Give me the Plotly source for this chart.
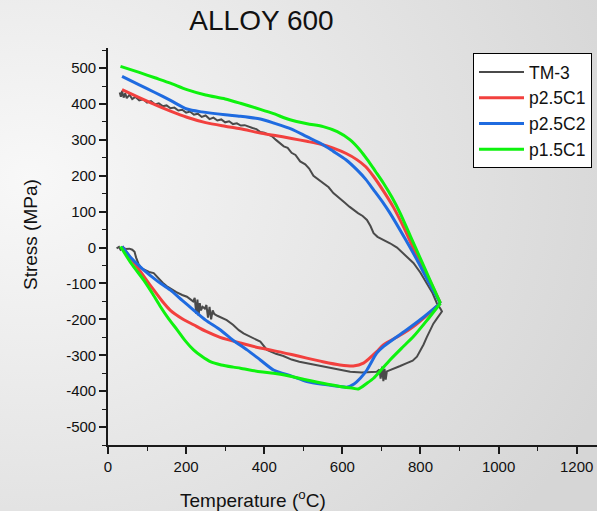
import base64
import plotly.graph_objects as go

# ---------------- data ----------------
# TM-3 measured loop: heating (compressive) branch, then cooling branch back
tm3_temp = [22, 28, 32, 38, 45, 55, 62, 68, 72, 78, 85, 95, 105, 117, 128, 140, 150, 160, 175, 190,
            202, 212, 218, 222, 226, 229, 232, 235, 238, 242, 248, 252, 256, 260, 264, 268, 272, 280,
            292, 304, 320, 335, 347, 360, 375, 390, 407, 430, 449, 470, 490, 509, 540, 569, 594, 620,
            650, 688, 695, 698, 702, 705, 708, 711, 714, 720, 735, 748, 765, 780, 791, 800, 808, 816,
            825, 833, 842, 850, 855,
            852, 842, 830, 816, 800, 782, 765, 748, 740, 722, 705, 690, 680, 672, 663, 652, 640, 628,
            618, 605, 590, 577, 565, 555, 540, 526, 515, 505, 492, 480, 470, 460, 450, 440, 430, 420,
            410, 400, 390, 380, 370, 360, 350, 340, 330, 320, 310, 300, 290, 280, 270, 260, 250, 240,
            230, 220, 210, 200, 190, 180, 170, 160, 150, 140, 130, 120, 110, 100, 90, 80, 70, 62, 55,
            48, 44, 40, 36, 33, 30]
tm3_stress = [-2, 2, -6, 0, -4, -3, -6, -12, -28, -45, -57, -62, -68, -71, -85, -98, -107, -114, -124, -132,
              -137, -145, -150, -140, -185, -145, -190, -155, -175, -165, -170, -160, -195, -165, -200, -175,
              -185, -190, -196, -202, -215, -230, -239, -246, -252, -262, -285, -296, -302, -312, -318, -322,
              -330, -336, -342, -346, -348, -346, -340, -365, -332, -372, -338, -368, -345, -342, -336, -330,
              -322, -315, -304, -288, -270, -250, -230, -212, -198, -186, -178,
              -172, -155, -125, -99, -70, -43, -25, -6, 0, 12, 22, 30, 40, 60, 77, 88, 96, 105,
              114, 126, 140, 152, 168, 176, 190, 200, 220, 232, 240, 258, 264, 278, 282, 290, 300, 310,
              316, 320, 322, 330, 333, 338, 341, 340, 346, 344, 352, 349, 357, 354, 362, 358, 368, 364,
              373, 370, 379, 376, 384, 382, 390, 388, 396, 394, 402, 399, 408, 404, 413, 410, 420, 414,
              426, 416, 430, 418, 436, 420, 432]

# p2.5C1
c1_lo_temp = [36, 55, 74, 95, 117, 138, 159, 190, 219, 250, 287, 339, 390, 424, 470, 509, 550, 594,
              628, 654, 688, 705, 750, 782, 815, 851]
c1_lo_stress = [3, -25, -53, -85, -118, -148, -174, -198, -215, -233, -250, -266, -280, -287, -298, -308,
                -318, -327, -330, -322, -290, -271, -243, -220, -190, -155]
c1_up_temp = [851, 825, 795, 760, 731, 705, 680, 660, 637, 610, 577, 545, 509, 470, 424, 390, 339,
              300, 250, 202, 160, 120, 80, 36]
c1_up_stress = [-155, -95, -34, 50, 112, 158, 198, 225, 245, 262, 277, 288, 296, 304, 313, 319, 331,
                338, 348, 363, 380, 398, 418, 440]

# p2.5C2
c2_lo_temp = [36, 60, 91, 125, 159, 190, 219, 250, 287, 320, 356, 390, 424, 470, 509, 550, 594, 611,
              630, 646, 663, 688, 705, 735, 765, 810, 851]
c2_lo_stress = [3, -30, -62, -92, -118, -147, -174, -202, -229, -258, -285, -313, -341, -358, -373,
                -381, -387, -389, -380, -364, -341, -294, -276, -252, -229, -192, -155]
c2_up_temp = [851, 820, 791, 760, 722, 705, 680, 660, 637, 610, 577, 545, 509, 470, 424, 390, 339,
              300, 240, 202, 160, 120, 80, 36]
c2_up_stress = [-155, -94, -34, 26, 96, 124, 161, 190, 217, 244, 268, 290, 309, 330, 347, 358, 366,
                370, 378, 386, 410, 432, 453, 477]

# p1.5C1
c3_lo_temp = [32, 60, 91, 115, 134, 155, 177, 198, 219, 240, 262, 290, 321, 339, 390, 424, 470, 509,
              550, 594, 628, 641, 663, 680, 700, 722, 752, 782, 815, 851]
c3_lo_stress = [3, -45, -90, -130, -164, -198, -229, -260, -285, -303, -318, -327, -333, -336, -346,
                -350, -359, -369, -378, -387, -392, -394, -378, -364, -340, -313, -280, -248, -205, -155]
c3_up_temp = [851, 825, 800, 775, 748, 727, 705, 685, 664, 645, 620, 587, 551, 510, 466, 424, 390,
              339, 300, 250, 202, 160, 120, 80, 32]
c3_up_stress = [-155, -92, -31, 30, 96, 140, 180, 212, 245, 272, 300, 323, 337, 345, 356, 373, 385,
                402, 414, 425, 440, 458, 473, 488, 505]

x_ticks = [0, 200, 400, 600, 800, 1000, 1200]
y_ticks = [500, 400, 300, 200, 100, 0, -100, -200, -300, -400, -500]
y_tick_text = [str(v) for v in y_ticks]

FONT = "Liberation Sans, Arial, sans-serif"

fig = go.Figure()

fig.add_trace(go.Scatter(x=tm3_temp, y=tm3_stress, mode="lines", name="TM-3",
                         line=dict(color="#4a4a4a", width=2)))

series = [
    ("p2.5C1", "#f2403e", c1_lo_temp, c1_lo_stress, c1_up_temp, c1_up_stress),
    ("p2.5C2", "#1f6be0", c2_lo_temp, c2_lo_stress, c2_up_temp, c2_up_stress),
    ("p1.5C1", "#0ef20e", c3_lo_temp, c3_lo_stress, c3_up_temp, c3_up_stress),
]
for name, color, lx, ly, ux, uy in series:
    fig.add_trace(go.Scatter(x=lx, y=ly, mode="lines", name=name, legendgroup=name,
                             line=dict(color=color, width=3, shape="spline", smoothing=0.7)))
    fig.add_trace(go.Scatter(x=ux, y=uy, mode="lines", name=name, legendgroup=name,
                             showlegend=False,
                             line=dict(color=color, width=3, shape="spline", smoothing=0.7)))

# soft grey gradient backdrop behind the whole figure
W, H = 597, 511
svg = (f"<svg xmlns='http://www.w3.org/2000/svg' width='{W}' height='{H}'>"
       "<defs><radialGradient id='g' cx='0.05' cy='0.35' r='1.05'>"
       "<stop offset='0' stop-color='#f8f8f8'/><stop offset='1' stop-color='#d6d6d6'/>"
       "</radialGradient></defs>"
       f"<rect width='{W}' height='{H}' fill='url(#g)'/></svg>")
bg_uri = "data:image/svg+xml;base64," + base64.b64encode(svg.encode()).decode()

ml, mr, mt, mb = 108, 0, 48, 66
pw, ph = W - ml - mr, H - mt - mb

fig.update_layout(
    width=W, height=H,
    margin=dict(l=ml, r=mr, t=mt, b=mb, pad=0),
    paper_bgcolor="#e6e6e6",
    plot_bgcolor="rgba(0,0,0,0)",
    font=dict(family=FONT, color="#111111"),
    images=[dict(source=bg_uri, xref="paper", yref="paper",
                 x=-ml / pw, y=1 + mt / ph, sizex=W / pw, sizey=H / ph,
                 xanchor="left", yanchor="top", sizing="stretch", layer="below")],
    title=dict(text="ALLOY 600", font=dict(size=28, family=FONT, color="#111111"),
               x=261.5 / W, xref="container", xanchor="center",
               y=1 - 20 / H, yref="container", yanchor="middle"),
    showlegend=True,
    legend=dict(x=(473 - ml) / pw, y=(445 - 53) / ph, xanchor="left", yanchor="top",
                bgcolor="white", bordercolor="black", borderwidth=1,
                font=dict(size=17.5, family=FONT, color="#111111"),
                tracegroupgap=0, itemwidth=45),
    xaxis=dict(range=[0, 1252], tickvals=x_ticks, showgrid=False, zeroline=False,
               showline=True, linecolor="#1a1a1a", linewidth=1.6,
               ticks="outside", ticklen=7, tickwidth=1.5, tickcolor="#1a1a1a",
               tickfont=dict(size=15, family=FONT, color="#111111"),
               minor=dict(ticks="outside", ticklen=4, tickwidth=1.2, tickcolor="#1a1a1a", dtick=100,
                          tick0=0, showgrid=False)),
    yaxis=dict(range=[-550, 556], tickvals=y_ticks, ticktext=y_tick_text, showgrid=False,
               zeroline=False, showline=True, linecolor="#1a1a1a", linewidth=1.6,
               ticks="outside", ticklen=7, tickwidth=1.5, tickcolor="#1a1a1a",
               tickfont=dict(size=15, family=FONT, color="#111111"),
               minor=dict(ticks="outside", ticklen=4, tickwidth=1.2, tickcolor="#1a1a1a", dtick=50,
                          tick0=0, showgrid=False)),
    annotations=[
        dict(text="Temperature (<sup>o</sup>C)", xref="paper", yref="paper",
             x=(253 - ml) / pw, y=(445 - 499) / ph, xanchor="center", yanchor="middle",
             showarrow=False, font=dict(size=19, family=FONT, color="#111111")),
        dict(text="Stress (MPa)", xref="paper", yref="paper", textangle=-90,
             x=(30 - ml) / pw, y=(445 - 235) / ph, xanchor="center", yanchor="middle",
             showarrow=False, font=dict(size=19, family=FONT, color="#111111")),
    ],
)

fig.write_html("out.html")
